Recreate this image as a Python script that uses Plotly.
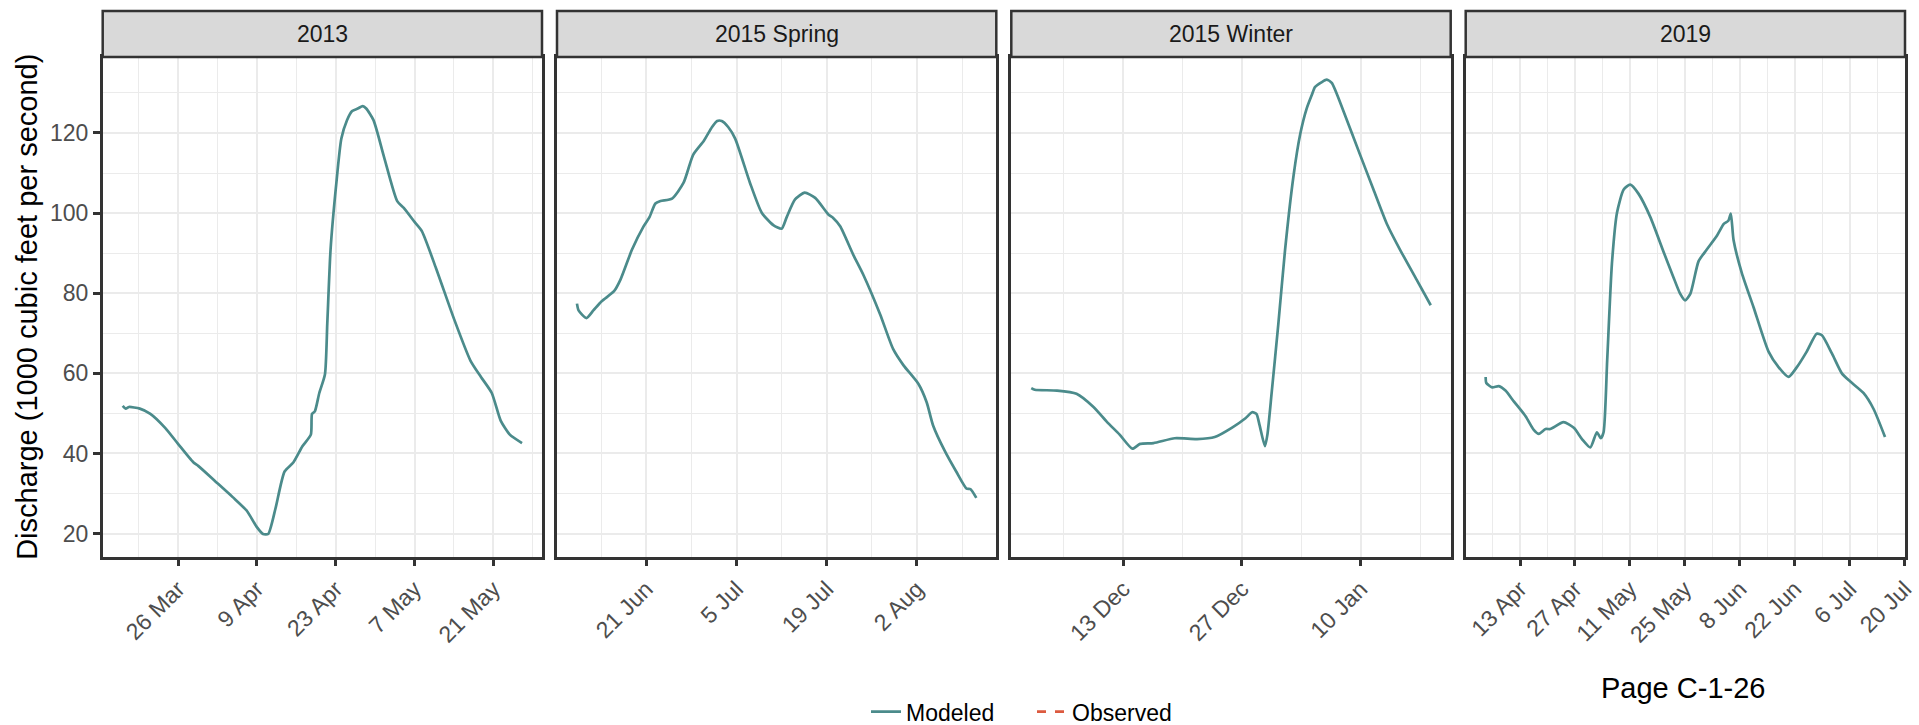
import pandas as pd
import plotly.graph_objects as go

# ---------------- data ----------------
panels = ["2013", "2015 Spring", "2015 Winter", "2019"]

dates_2013 = ["2013-03-16 04:00", "2013-03-16 17:00", "2013-03-17 07:00", "2013-03-19 05:00", "2013-03-21 02:00",
              "2013-03-23 17:00", "2013-03-26 00:00", "2013-03-28 17:00", "2013-03-29 14:00", "2013-04-01 12:00",
              "2013-04-04 17:00", "2013-04-07 05:00", "2013-04-09 00:00", "2013-04-10 02:00", "2013-04-11 00:00",
              "2013-04-12 07:00", "2013-04-13 22:00", "2013-04-15 12:00", "2013-04-17 02:00", "2013-04-18 14:00",
              "2013-04-18 19:00", "2013-04-19 07:00", "2013-04-20 02:00", "2013-04-21 02:00", "2013-04-21 12:00",
              "2013-04-22 02:00", "2013-04-23 02:00", "2013-04-24 00:00", "2013-04-25 00:00", "2013-04-25 22:00",
              "2013-04-26 22:00", "2013-04-27 19:00", "2013-04-28 10:00", "2013-04-29 17:00", "2013-05-01 14:00",
              "2013-05-03 22:00", "2013-05-05 02:00", "2013-05-07 00:00", "2013-05-08 07:00", "2013-05-10 19:00",
              "2013-05-14 00:00", "2013-05-16 22:00", "2013-05-18 19:00", "2013-05-20 17:00", "2013-05-22 07:00",
              "2013-05-23 22:00", "2013-05-26 02:00"]
q_2013 = [51.9, 51.2, 51.6, 51.2, 49.9, 46.4, 42.4, 37.8, 36.9, 33.2,
          29.1, 25.7, 21.6, 19.9, 19.9, 26.2, 35.5, 37.8, 41.8, 44.7,
          49.9, 50.5, 55.1, 59.7, 72.4, 90.9, 107.1, 118.6, 123.2, 125.5,
          126.1, 126.7, 126.1, 123.2, 114.0, 103.0, 101.3, 97.8, 95.5, 86.3,
          73.6, 63.2, 59.1, 55.1, 48.2, 44.7, 42.6]

dates_spring = ["2015-06-10 06:00", "2015-06-10 12:00", "2015-06-11 17:00", "2015-06-12 19:00", "2015-06-14 02:00",
                "2015-06-16 00:00", "2015-06-17 00:00", "2015-06-18 19:00", "2015-06-20 14:00", "2015-06-21 12:00",
                "2015-06-22 10:00", "2015-06-23 05:00", "2015-06-25 00:00", "2015-06-26 19:00", "2015-06-28 07:00",
                "2015-06-29 22:00", "2015-07-01 05:00", "2015-07-02 00:00", "2015-07-02 17:00", "2015-07-03 17:00",
                "2015-07-04 19:00", "2015-07-07 02:00", "2015-07-08 22:00", "2015-07-10 17:00", "2015-07-12 00:00",
                "2015-07-12 19:00", "2015-07-14 02:00", "2015-07-15 14:00", "2015-07-17 05:00", "2015-07-19 07:00",
                "2015-07-20 00:00", "2015-07-21 02:00", "2015-07-23 02:00", "2015-07-24 17:00", "2015-07-27 07:00",
                "2015-07-29 07:00", "2015-07-30 22:00", "2015-08-02 05:00", "2015-08-03 12:00", "2015-08-04 12:00",
                "2015-08-06 07:00", "2015-08-08 02:00", "2015-08-09 17:00", "2015-08-10 07:00", "2015-08-11 05:00"]
q_spring = [77.4, 75.7, 73.8, 75.7, 78.0, 80.5, 83.4, 90.9, 96.7, 99.0,
            102.4, 103.0, 103.6, 107.6, 114.6, 118.0, 121.5, 123.0, 123.0, 121.5,
            118.6, 107.6, 100.1, 97.0, 96.1, 99.0, 103.4, 105.1, 103.8, 99.6,
            98.8, 96.7, 89.7, 84.5, 74.7, 66.1, 62.0, 57.4, 52.8, 47.0,
            40.7, 35.5, 31.2, 31.1, 28.9]

dates_winter = ["2015-12-02 04:00", "2015-12-02 14:00", "2015-12-05 05:00", "2015-12-07 12:00", "2015-12-09 12:00",
                "2015-12-11 02:00", "2015-12-12 14:00", "2015-12-14 02:00", "2015-12-15 00:00", "2015-12-16 14:00",
                "2015-12-19 02:00", "2015-12-21 17:00", "2015-12-23 19:00", "2015-12-25 19:00", "2015-12-27 10:00",
                "2015-12-28 05:00", "2015-12-28 17:00", "2015-12-29 02:00", "2015-12-29 17:00", "2015-12-30 00:00",
                "2015-12-30 12:00", "2015-12-31 07:00", "2016-01-01 02:00", "2016-01-02 02:00", "2016-01-02 21:00",
                "2016-01-03 15:00", "2016-01-04 06:00", "2016-01-04 15:00", "2016-01-05 10:00", "2016-01-06 00:00",
                "2016-01-06 14:00", "2016-01-07 23:00", "2016-01-09 22:00", "2016-01-11 12:00", "2016-01-13 02:00",
                "2016-01-14 15:00", "2016-01-16 14:00", "2016-01-18 06:00"]
q_winter = [56.3, 55.9, 55.7, 54.9, 51.6, 47.9, 44.7, 41.2, 42.4, 42.6,
            43.8, 43.6, 44.1, 46.4, 48.8, 50.3, 49.9, 47.0, 41.8, 44.7,
            55.1, 72.4, 90.9, 109.4, 119.8, 126.1, 129.6, 131.5, 132.7, 133.3,
            132.5, 125.5, 114.6, 105.9, 97.3, 90.9, 83.4, 77.0]

dates_2019 = ["2019-04-04 06:00", "2019-04-04 10:00", "2019-04-05 22:00", "2019-04-07 14:00", "2019-04-09 07:00",
              "2019-04-11 10:00", "2019-04-14 10:00", "2019-04-16 12:00", "2019-04-17 19:00", "2019-04-19 12:00",
              "2019-04-20 17:00", "2019-04-24 02:00", "2019-04-26 17:00", "2019-04-28 19:00", "2019-04-30 22:00",
              "2019-05-02 14:00", "2019-05-03 14:00", "2019-05-04 07:00", "2019-05-05 05:00", "2019-05-06 10:00",
              "2019-05-07 17:00", "2019-05-09 10:00", "2019-05-11 02:00", "2019-05-13 05:00", "2019-05-16 05:00",
              "2019-05-19 14:00", "2019-05-22 02:00", "2019-05-23 19:00", "2019-05-25 02:00", "2019-05-26 10:00",
              "2019-05-28 12:00", "2019-05-30 14:00", "2019-06-02 05:00", "2019-06-03 22:00", "2019-06-05 02:00",
              "2019-06-05 17:00", "2019-06-06 10:00", "2019-06-08 12:00", "2019-06-11 12:00", "2019-06-15 07:00",
              "2019-06-17 22:00", "2019-06-20 10:00", "2019-06-22 12:00", "2019-06-25 02:00", "2019-06-27 14:00",
              "2019-06-28 22:00", "2019-07-01 12:00", "2019-07-04 00:00", "2019-07-06 02:00", "2019-07-09 12:00",
              "2019-07-12 02:00", "2019-07-15 00:00"]
q_2019 = [59.1, 57.6, 56.5, 56.8, 55.7, 53.0, 49.3, 45.9, 44.9, 46.1,
          46.1, 47.8, 46.4, 43.6, 41.5, 45.3, 43.8, 45.3, 63.2, 87.4,
          100.1, 105.9, 107.1, 104.8, 99.0, 90.3, 84.0, 79.9, 78.2, 79.9,
          88.0, 90.9, 94.4, 97.3, 98.1, 99.9, 93.2, 85.1, 76.5, 65.5,
          61.5, 59.1, 61.5, 65.5, 69.9, 69.5, 64.9, 60.0, 58.0, 55.1,
          51.1, 44.1]

ticks_2013 = ["2013-03-26", "2013-04-09", "2013-04-23", "2013-05-07", "2013-05-21"]
minor_2013 = ["2013-03-19", "2013-04-02", "2013-04-16", "2013-04-30", "2013-05-14", "2013-05-28"]
ticks_spring = ["2015-06-21", "2015-07-05", "2015-07-19", "2015-08-02"]
minor_spring = ["2015-06-14", "2015-06-28", "2015-07-12", "2015-07-26", "2015-08-09"]
ticks_winter = ["2015-12-13", "2015-12-27", "2016-01-10"]
minor_winter = ["2015-12-06", "2015-12-20", "2016-01-03", "2016-01-17"]
ticks_2019 = ["2019-04-13", "2019-04-27", "2019-05-11", "2019-05-25", "2019-06-08",
              "2019-06-22", "2019-07-06", "2019-07-20"]
minor_2019 = ["2019-04-06", "2019-04-20", "2019-05-04", "2019-05-18", "2019-06-01",
              "2019-06-15", "2019-06-29", "2019-07-13"]

y_ticks = [20, 40, 60, 80, 100, 120]
y_minor = [30, 50, 70, 90, 110, 130]

series_names = ["Modeled", "Observed"]

# ---------------- styling / layout ----------------
W, H = 1919, 725
FONT = "Liberation Sans, Arial, Helvetica, sans-serif"
MOD_COLOR = "#4B8B8B"
OBS_COLOR = "#DC5A3F"
BORDER = "#333333"
GRID = "#EBEBEB"

panel_px = [(102.7, 542.0), (557.0, 996.3), (1011.3, 1450.7), (1465.7, 1905.0)]
plot_top_px, plot_bot_px, strip_top_px = 57.0, 556.7, 11.0
y_dom = [1 - plot_bot_px / H, 1 - plot_top_px / H]

data = [(dates_2013, q_2013, ticks_2013, minor_2013),
        (dates_spring, q_spring, ticks_spring, minor_spring),
        (dates_winter, q_winter, ticks_winter, minor_winter),
        (dates_2019, q_2019, ticks_2019, minor_2019)]

all_q = q_2013 + q_spring + q_winter + q_2019
qmin, qmax = min(all_q), max(all_q)
pad = 0.05 * (qmax - qmin)
y_range = [qmin - pad, qmax + pad]

fig = go.Figure()
layout = dict(
    width=W, height=H,
    margin=dict(l=0, r=0, t=0, b=0, pad=0, autoexpand=False),
    paper_bgcolor="white", plot_bgcolor="white",
    font=dict(family=FONT, size=23, color="#4D4D4D"),
    showlegend=True,
    legend=dict(orientation="h", x=866 / W, xanchor="left", y=(H - 711.7) / H, yanchor="middle",
                font=dict(family=FONT, size=23, color="#000000"), bgcolor="rgba(0,0,0,0)",
                entrywidth=121, entrywidthmode="pixels", itemwidth=30, tracegroupgap=0),
)
shapes, annotations = [], []

for i, (name, (dts, q, tks, mnr)) in enumerate(zip(panels, data)):
    k = "" if i == 0 else str(i + 1)
    xa, ya = "x" + k, "y" + k
    t = pd.to_datetime(dts)
    span = t.max() - t.min()
    xr = [(t.min() - 0.05 * span).strftime("%Y-%m-%d %H:%M:%S"),
          (t.max() + 0.05 * span).strftime("%Y-%m-%d %H:%M:%S")]
    fig.add_trace(go.Scatter(x=dts, y=q, mode="lines", xaxis=xa, yaxis=ya,
                             line=dict(color=MOD_COLOR, width=2.7, shape="spline", smoothing=0.6),
                             name=series_names[0], legendgroup="mod", showlegend=(i == 0),
                             hoverinfo="x+y"))
    x0, x1 = panel_px[i]
    layout["xaxis" + k] = dict(
        domain=[x0 / W, x1 / W], anchor=ya, type="date", range=xr,
        tickmode="array", tickvals=tks, tickformat="%-d %b", tickangle=-45,
        ticks="outside", ticklen=7, tickwidth=2.5, tickcolor=BORDER,
        tickfont=dict(family=FONT, size=23, color="#4D4D4D"),
        showgrid=True, gridcolor=GRID, gridwidth=2.4,
        minor=dict(tickmode="array", tickvals=mnr, showgrid=True, gridcolor=GRID, gridwidth=1.3, ticks=""),
        showline=True, mirror=True, linecolor=BORDER, linewidth=2.5,
        zeroline=False, fixedrange=True,
    )
    layout["yaxis" + k] = dict(
        domain=y_dom, anchor=xa, range=y_range,
        tickmode="array", tickvals=y_ticks, showticklabels=(i == 0),
        ticks="outside" if i == 0 else "", ticklen=7, tickwidth=2.5, tickcolor=BORDER,
        tickfont=dict(family=FONT, size=23, color="#4D4D4D"),
        showgrid=True, gridcolor=GRID, gridwidth=2.4,
        minor=dict(tickmode="array", tickvals=y_minor, showgrid=True, gridcolor=GRID, gridwidth=1.3, ticks=""),
        showline=True, mirror=True, linecolor=BORDER, linewidth=2.5,
        zeroline=False, fixedrange=True,
    )
    # facet strip
    shapes.append(dict(type="rect", xref="paper", yref="paper",
                       x0=x0 / W, x1=x1 / W, y0=1 - plot_top_px / H, y1=1 - strip_top_px / H,
                       fillcolor="#D9D9D9", line=dict(color=BORDER, width=2.5), layer="above"))
    annotations.append(dict(text=name, xref="paper", yref="paper",
                            x=(x0 + x1) / 2 / W, y=1 - (plot_top_px + strip_top_px) / 2 / H,
                            xanchor="center", yanchor="middle", showarrow=False,
                            font=dict(family=FONT, size=23, color="#1A1A1A")))

# observed series (no values drawn, legend entry only)
fig.add_trace(go.Scatter(x=[None], y=[None], mode="lines", name=series_names[1],
                         line=dict(color=OBS_COLOR, width=2.7, dash="dash"), legendgroup="obs"))

annotations.append(dict(text="Discharge (1000 cubic feet per second)", xref="paper", yref="paper",
                        x=27 / W, y=1 - (plot_top_px + plot_bot_px) / 2 / H, textangle=-90,
                        xanchor="center", yanchor="middle", showarrow=False,
                        font=dict(family=FONT, size=29, color="#000000")))
annotations.append(dict(text="Page C-1-26", xref="paper", yref="paper",
                        x=1683.4 / W, y=1 - 688.3 / H, xanchor="center", yanchor="middle", showarrow=False,
                        font=dict(family=FONT, size=29, color="#000000")))

layout["shapes"] = shapes
layout["annotations"] = annotations
fig.update_layout(**layout)

# remove the browser's default 8px page margin so the figure sits at the window origin
fig.write_html("out.html", config={"displayModeBar": False},
               post_script="document.body.style.margin='0';document.body.style.overflow='hidden';")
